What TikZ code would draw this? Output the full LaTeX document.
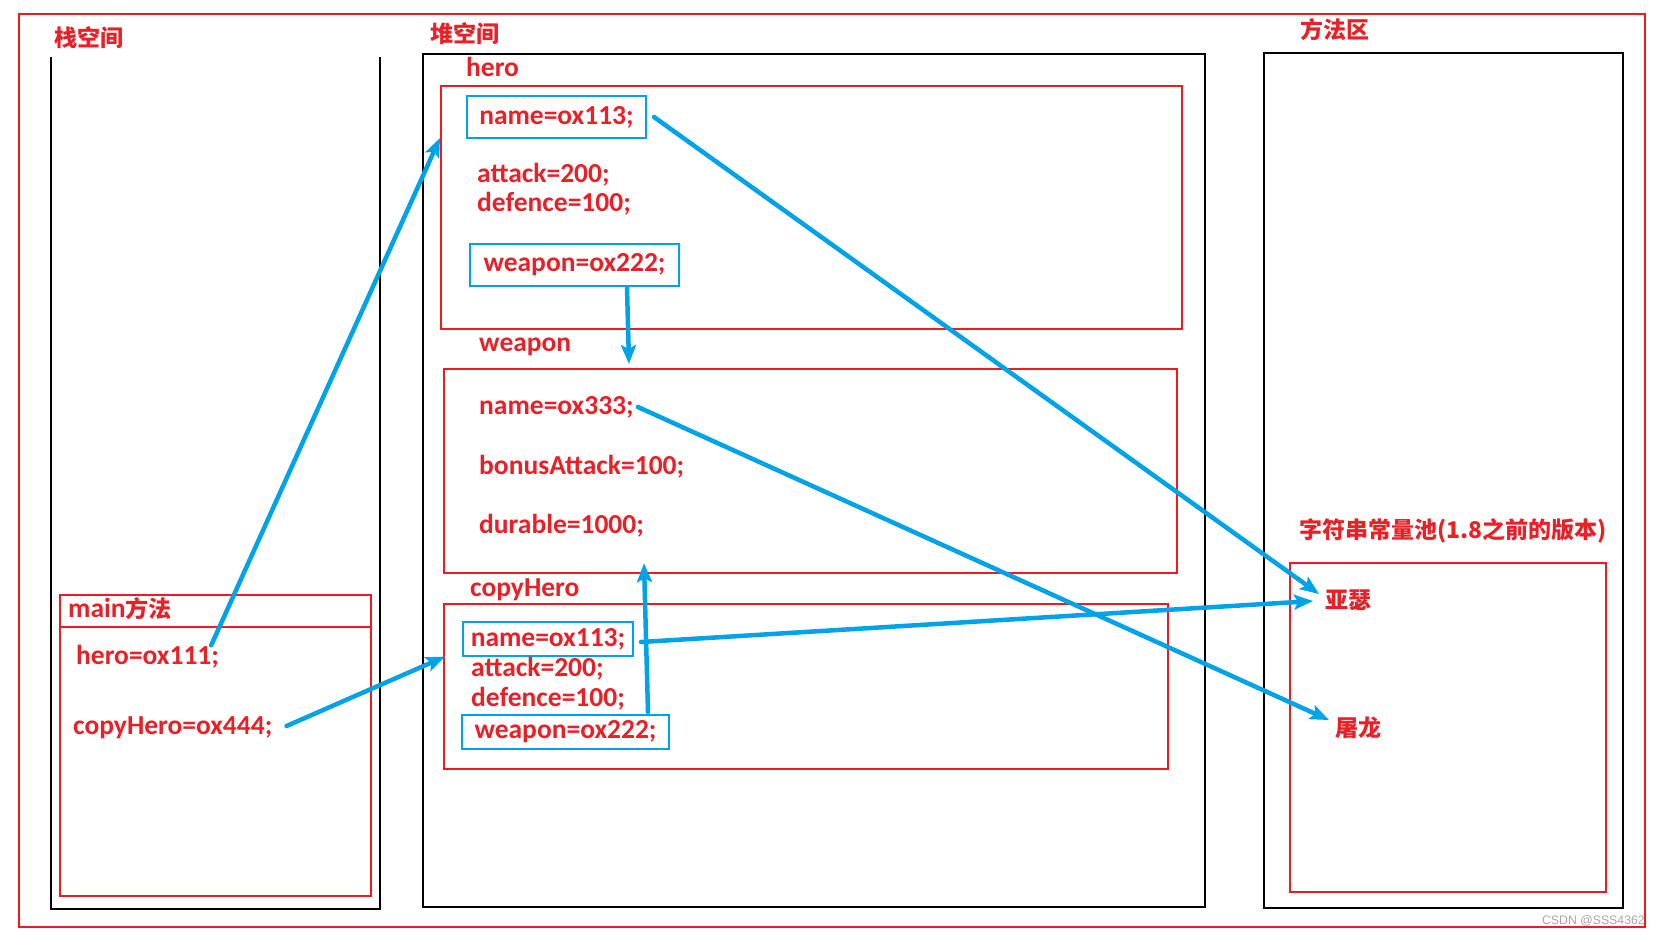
\documentclass[tikz,border=0pt]{standalone}
\usepackage{fontspec}
\setmainfont{Carlito}
\newfontfamily\cjk{Noto Sans CJK SC}
\newfontfamily\markfont{Liberation Sans}
\usetikzlibrary{arrows.meta,calc}

\definecolor{linered}{RGB}{237,28,36}
\definecolor{textred}{RGB}{232,32,40}
\definecolor{refblue}{RGB}{0,162,232}

\newcommand\latfont{\bfseries\fontsize{27.5}{30}\selectfont}
\newcommand\cjkfont{\cjk\bfseries\fontsize{23}{26}\selectfont}

\tikzset{
  redbox/.style={draw=linered, line width=2.2pt, inner sep=0pt, anchor=north west},
  blackbox/.style={draw=black, line width=2.8pt},
  bluebox/.style={draw=refblue, line width=2pt, inner sep=0pt, text=textred, font=\latfont},
  attr/.style={text=textred, font=\latfont, inner sep=0pt, anchor=west},
  title/.style={text=textred, font=\cjkfont, inner sep=0pt},
  ptr/.style={draw=refblue, line width=4.5pt, line cap=round, -{Stealth[length=19pt,width=15pt,inset=4pt]}},
}

\begin{document}
\begin{tikzpicture}[x=1pt,y=-1pt]
  \useasboundingbox (0,0) rectangle (1661,935);
  % Draw the outer frame
  \draw[draw=linered, line width=2.2pt] (19,14) rectangle (1645,927);

  % Stack space
  \node[title] (stacktitle) at (89,38) {栈空间};
  \draw[blackbox] (51,57) -- (51,909) -- (380,909) -- (380,57);
  \node[redbox, minimum width=311, minimum height=301] (mainobj) at (59,594) {};
  \draw[draw=linered, line width=2.2pt] ($(mainobj.north west)+(0,33)$) -- ($(mainobj.north east)+(0,33)$);
  \node[attr] (maintitle) at (68,609) {main{\cjkfont 方法}};
  \node[attr] (hv) at (76,657) {hero=ox111;};
  \node[attr] (chv) at (73,728) {copyHero=ox444;};

  % Heap space
  \node[title] (heaptitle) at (465,34) {堆空间};
  \draw[blackbox] (423,54) rectangle (1205,907);
  % hero object
  \node[attr] (herolabel) at (466,67) {hero};
  \node[redbox, minimum width=741, minimum height=243] (heroobj) at (440,85) {};
  \node[bluebox, minimum width=179, minimum height=42] (hname) at (556.5,117) {name=ox113;};
  \node[attr] (hattack) at (477,175) {attack=200;};
  \node[attr] (hdefence) at (477,204) {defence=100;};
  \node[bluebox, minimum width=209, minimum height=42] (hweapon) at (574.5,265) {weapon=ox222;};
  % weapon object
  \node[attr] (weaponlabel) at (479,347) {weapon};
  \node[redbox, minimum width=733, minimum height=204] (weaponobj) at (443,368) {};
  \foreach \n/\y/\t in {name/407/name=ox333;,bonus/467/bonusAttack=100;,durable/526/durable=1000;}
    \node[attr] (w\n) at (479,\y) {\t};
  % copyHero object
  \node[attr] (copylabel) at (470,590) {copyHero};
  \node[redbox, minimum width=724, minimum height=165] (copyobj) at (443,603) {};
  \node[bluebox, minimum width=170, minimum height=34] (cname) at (548,639) {name=ox113;};
  \node[attr] (cattack) at (471,669) {attack=200;};
  \node[attr] (cdefence) at (471,699) {defence=100;};
  \node[bluebox, minimum width=207, minimum height=34] (cweapon) at (565.5,732) {weapon=ox222;};

  % Method area
  \node[title] (methodtitle) at (1335,30) {方法区};
  \draw[blackbox] (1264,53) rectangle (1623,908);
  \node[title] (pooltitle) at (1453,531) {字符串常量池(1.8之前的版本)};
  \node[redbox, minimum width=316, minimum height=329] (poolobj) at (1289,562) {};
  \node[title, anchor=west] (yase) at (1325,600) {亚瑟};
  \node[title, anchor=west] (tulong) at (1335,728) {屠龙};

  % References
  \draw[ptr] ($(hv.north east)+(-8,0)$) -- ($(heroobj.north west)+(0,53)$);
  \draw[ptr] ($(chv.east)+(14,-2)$) -- ($(copyobj.west)+(2,-30)$);
  \draw[ptr] ($(hweapon.south east)+(-53,0)$) -- ($(hweapon.south east |- weaponobj.north)+(-51,-4)$);
  \draw[ptr] ($(hname.east)+(7,0)$) -- ($(yase.west)+(-6,-6)$);
  \draw[ptr] ($(wname.east)+(4,0)$) -- ($(tulong.west)+(-6,-8)$);
  \draw[ptr] ($(cname.east)+(7,3)$) -- ($(yase.west)+(-12,1)$);
  \draw[ptr] ($(cweapon.north east)+(-22,-2)$) -- ($(cweapon.north east |- weaponobj.south)+(-26,-11)$);

  \node[text=black!35, font=\markfont\fontsize{12.3}{14}\selectfont, anchor=east, inner sep=0pt] (mark) at (1645,921) {CSDN @SSS4362};
\end{tikzpicture}
\end{document}
